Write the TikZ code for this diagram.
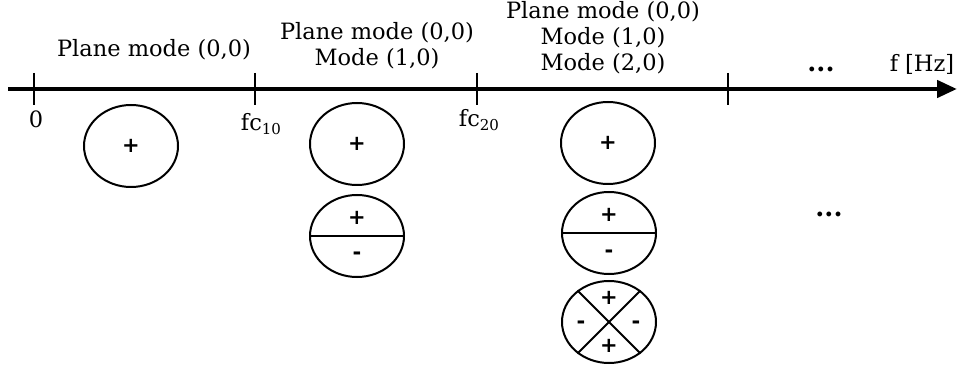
\documentclass[tikz,border=0pt]{standalone}
\usepackage{fontspec}
\setmainfont{DejaVu Serif}
\newfontfamily\signfont{DejaVu Sans}
\usetikzlibrary{shapes.geometric,arrows.meta}
\tikzset{
  lbl/.style={font=\fontsize{22.5}{26}\selectfont, inner sep=0pt, anchor=base},
  modeshape/.style={draw, line width=2pt, ellipse, minimum width=94pt, minimum height=82pt, inner sep=0pt},
  sign/.style={font=\signfont\bfseries\fontsize{21}{21}\selectfont, inner sep=0pt},
  tickmark/.style={line width=2.3pt},
  divider/.style={line width=2pt},
  axisline/.style={line width=4.5pt, -{Triangle[length=20pt,width=17pt]}}
}
\newcommand{\subsc}[1]{{\fontsize{15}{15}\selectfont\raisebox{-4pt}{#1}}}
\newcommand{\bdots}{{\bfseries\fontsize{26}{26}\selectfont...}}
\begin{document}
\begin{tikzpicture}[x=1pt,y=-1pt]
\useasboundingbox (0,0) rectangle (970,374);
% axis
\coordinate (axs) at (8,89);
\coordinate (axe) at (957,89);
\draw[axisline] (axs) -- (axe);
% ticks
\foreach \n/\x in {t0/34,t1/255,t2/477,t3/728}{
  \coordinate (\n a) at (\x,73);
  \coordinate (\n b) at (\x,105);
  \draw[tickmark] (\n a) -- (\n b);
}
% tick labels
\node[lbl] (l0) at (36,128) {0};
\node[lbl] (l1) at (261,131) {fc\subsc{10}};
\node[lbl] (l2) at (479,127) {fc\subsc{20}};
\node[lbl] (dots1) at (821,72) {\bdots};
\node[lbl] (fhz) at (922,72) {f [Hz]};
% column labels
\node[lbl] (c1a) at (154,57) {Plane mode (0,0)};
\node[lbl] (c2a) at (377,40) {Plane mode (0,0)};
\node[lbl] (c2b) at (377,66) {Mode (1,0)};
\node[lbl] (c3a) at (603,19) {Plane mode (0,0)};
\node[lbl] (c3b) at (603,45) {Mode (1,0)};
\node[lbl] (c3c) at (603,71) {Mode (2,0)};
% column 1
\node[modeshape] (e1) at (131,146) {};
\node[sign] (e1p) at (e1.center) {+};
% column 2
\node[modeshape] (e2a) at (357,144) {};
\node[sign] (e2ap) at (e2a.center) {+};
\node[modeshape] (e2b) at (357,236) {};
\draw[divider] (e2b.west) -- (e2b.east);
\node[sign] (e2bp) at (357,218) {+};
\node[sign] (e2bm) at (357,256) {-};
% column 3
\node[modeshape] (e3a) at (608,143) {};
\node[sign] (e3ap) at (e3a.center) {+};
\node[modeshape] (e3b) at (609,233) {};
\draw[divider] (e3b.west) -- (e3b.east);
\node[sign] (e3bp) at (609,215) {+};
\node[sign] (e3bm) at (609,254) {-};
\node[modeshape] (e3c) at (609,322) {};
\draw[divider] (e3c.135) -- (e3c.-45);
\draw[divider] (e3c.45) -- (e3c.-135);
\node[sign] (e3cp1) at (609,298) {+};
\node[sign] (e3cp2) at (609,346) {+};
\node[sign] (e3cm1) at (581,325) {-};
\node[sign] (e3cm2) at (636,325) {-};
% right dots
\node[lbl] (dots2) at (829,217) {\bdots};
\end{tikzpicture}
\end{document}
